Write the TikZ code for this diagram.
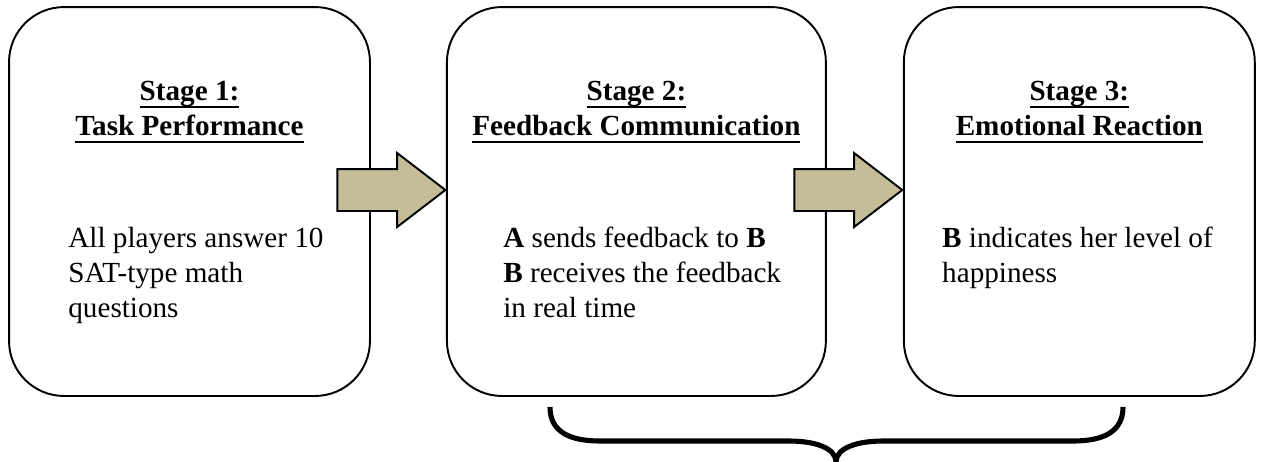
\documentclass[tikz,border=0pt]{standalone}
\usepackage{fontspec}
\setmainfont{Liberation Serif}
\usepackage{tikz}
\usetikzlibrary{shapes.arrows, positioning, calc}
\definecolor{stagetan}{HTML}{C4BD97}
\newsavebox{\stagelinebox}
\newcommand{\stageline}[1]{\sbox{\stagelinebox}{#1}\rlap{\rule[-4.3pt]{\wd\stagelinebox}{1.1pt}}\usebox{\stagelinebox}}

\begin{document}
\begin{tikzpicture}[x=0.02cm, y=-0.02cm,
        stagebox/.style={draw, line width=1.1pt, rounded corners=1.1cm, minimum height=7.78cm, outer sep=0pt},
        stagehead/.style={align=center, inner sep=0pt, font=\fontsize{16.6pt}{19.9pt}\selectfont\bfseries},
        stagetext/.style={align=left, inner sep=0pt, font=\fontsize{16.6pt}{19.9pt}\selectfont},
        stagearrow/.style={single arrow, draw, line width=1.1pt, fill=stagetan, inner xsep=0pt, inner ysep=0.4cm, minimum height=2.16cm, single arrow head extend=0.32cm, single arrow tip angle=75},
        bracestroke/.style={line width=2.9pt}
    ]
        \useasboundingbox (0,0) rectangle (1264,461);

        % the three stages
        \node (stage1) [stagebox, minimum width=7.22cm] at (189.5,201.5) {};
        \node (stage2) [stagebox, minimum width=7.58cm, right=1.54cm of stage1] {};
        \node (stage3) [stagebox, minimum width=7.02cm, right=1.56cm of stage2] {};

        \node (head1) [stagehead, anchor=base] at ($(stage1.north)+(0,128)$) {\stageline{Stage 1:}\\\stageline{Task Performance}};
        \node (head2) [stagehead, anchor=base] at ($(stage2.north)+(0,128)$) {\stageline{Stage 2:}\\\stageline{Feedback Communication}};
        \node (head3) [stagehead, anchor=base] at ($(stage3.north)+(0,128)$) {\stageline{Stage 3:}\\\stageline{Emotional Reaction}};

        \node (text1) [stagetext, anchor=base west] at ($(stage1.north west)+(59,310)$) {All players answer 10\\SAT-type math\\questions};
        \node (text2) [stagetext, anchor=base west] at ($(stage2.north west)+(56,310)$) {\textbf{A} sends feedback to \textbf{B}\\\textbf{B} receives the feedback\\in real time};
        \node (text3) [stagetext, anchor=base west] at ($(stage3.north west)+(38,275)$) {\textbf{B} indicates her level of\\happiness};

        % block arrows between stages
        \node (arrow12) [stagearrow, anchor=tip] at ($(stage2.west)+(0,-11.5)$) {};
        \node (arrow23) [stagearrow, anchor=tip] at ($(stage3.west)+(0,-11.5)$) {};

        % brace under stages 2 and 3
        \draw [bracestroke] (550,407) .. controls (550,432) and (570,441) .. (600,441) -- (789,441)
            .. controls (815,441) and (836,448) .. (836,462)
            .. controls (836,448) and (857,441) .. (883,441) -- (1073,441)
            .. controls (1103,441) and (1123,432) .. (1123,407);
\end{tikzpicture}
\end{document}
